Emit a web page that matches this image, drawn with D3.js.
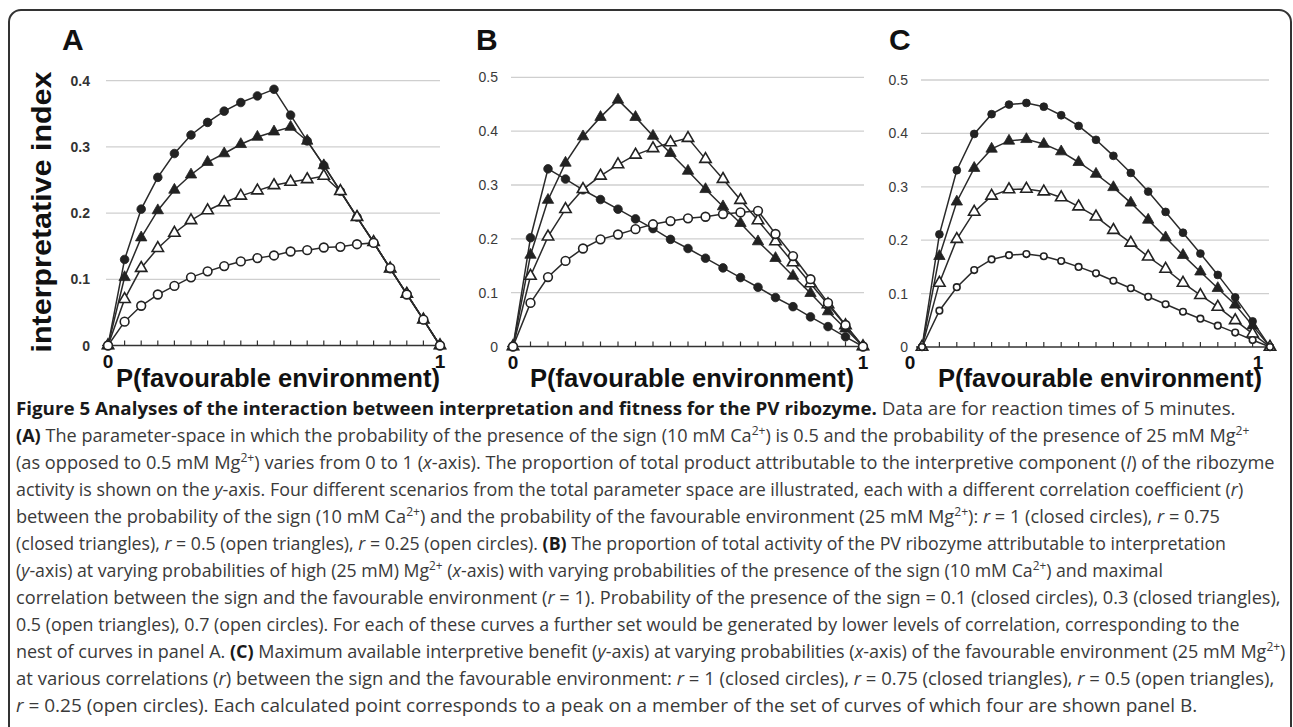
<!DOCTYPE html>
<meta charset="utf-8">
<style>
body { margin: 0; background: #fff; }
svg { display: block; }
.ytick { font: bold 14px "Liberation Sans", Arial, sans-serif; fill: #333; }
.ytick.light { font-weight: normal; fill: #3a3a3a; }
.xtick { font: bold 19px "Liberation Sans", Arial, sans-serif; fill: #111; }
.xtitle { font: bold 25px "Liberation Sans", Arial, sans-serif; fill: #111; }
.ytitle { font: bold 28px "Liberation Sans", Arial, sans-serif; fill: #111; }
.letter { font: bold 30px "Liberation Sans", Arial, sans-serif; fill: #111; }
.grid { stroke: #cfcfcf; stroke-width: 1.3; }
.axis { stroke: #333; stroke-width: 1.5; }
.series { fill: none; stroke: #2a2a2a; stroke-width: 1.5; }
.cap { font: 18px "Open Sans", sans-serif; fill: #3a3a3a; }
</style>
<body>
<svg id="fig" width="1293" height="727"></svg>

<script src="https://cdn.jsdelivr.net/npm/d3@7"></script>
<script>

// x categories: P(favourable environment), step 0.05
var xCats = [0, 0.05, 0.1, 0.15, 0.2, 0.25, 0.3, 0.35, 0.4, 0.45, 0.5,
             0.55, 0.6, 0.65, 0.7, 0.75, 0.8, 0.85, 0.9, 0.95, 1];

// panel A : correlation r = 1, 0.75, 0.5, 0.25
var aR100 = [0, 0.130, 0.206, 0.254, 0.290, 0.318, 0.337, 0.354, 0.367, 0.377, 0.387,
             0.348, 0.309, 0.272, 0.233, 0.194, 0.156, 0.116, 0.078, 0.039, 0];
var aR075 = [0, 0.103, 0.163, 0.204, 0.235, 0.258, 0.277, 0.290, 0.304, 0.315, 0.323,
             0.330, 0.309, 0.272, 0.233, 0.194, 0.156, 0.116, 0.078, 0.039, 0];
var aR050 = [0, 0.070, 0.117, 0.147, 0.170, 0.189, 0.204, 0.216, 0.226, 0.234, 0.242,
             0.247, 0.251, 0.256, 0.233, 0.194, 0.156, 0.116, 0.078, 0.039, 0];
var aR025 = [0, 0.036, 0.060, 0.077, 0.090, 0.103, 0.112, 0.120, 0.127, 0.132, 0.136,
             0.142, 0.144, 0.148, 0.149, 0.153, 0.155, 0.117, 0.077, 0.039, 0];

// panel B : P(sign) = 0.1, 0.3, 0.5, 0.7
var bP01 = [0, 0.202, 0.330, 0.311, 0.291, 0.273, 0.255, 0.237, 0.219, 0.199, 0.182,
            0.164, 0.146, 0.128, 0.110, 0.091, 0.074, 0.055, 0.037, 0.018, 0];
var bP03 = [0, 0.170, 0.272, 0.341, 0.390, 0.426, 0.458, 0.426, 0.391, 0.359, 0.326,
            0.292, 0.260, 0.229, 0.195, 0.164, 0.131, 0.099, 0.065, 0.033, 0];
var bP05 = [0, 0.131, 0.204, 0.255, 0.292, 0.317, 0.338, 0.356, 0.368, 0.379, 0.387,
            0.348, 0.311, 0.272, 0.234, 0.195, 0.156, 0.117, 0.078, 0.039, 0];
var bP07 = [0, 0.081, 0.129, 0.159, 0.182, 0.199, 0.208, 0.218, 0.227, 0.233, 0.238,
            0.241, 0.246, 0.249, 0.252, 0.209, 0.168, 0.125, 0.081, 0.040, 0];

// panel C : maximum benefit, r = 1, 0.75, 0.5, 0.25
var cR100 = [0, 0.211, 0.331, 0.399, 0.436, 0.454, 0.457, 0.450, 0.434, 0.414, 0.388,
             0.358, 0.326, 0.291, 0.253, 0.214, 0.175, 0.135, 0.093, 0.048, 0];
var cR075 = [0, 0.170, 0.272, 0.335, 0.371, 0.386, 0.389, 0.380, 0.366, 0.346, 0.324,
             0.299, 0.270, 0.238, 0.205, 0.172, 0.141, 0.110, 0.079, 0.040, 0];
var cR050 = [0, 0.120, 0.202, 0.253, 0.283, 0.295, 0.296, 0.291, 0.280, 0.263, 0.244,
             0.219, 0.195, 0.169, 0.146, 0.120, 0.097, 0.075, 0.050, 0.025, 0];
var cR025 = [0, 0.068, 0.112, 0.144, 0.164, 0.172, 0.174, 0.170, 0.161, 0.150, 0.138,
             0.124, 0.110, 0.094, 0.080, 0.066, 0.053, 0.040, 0.027, 0.013, 0];

var yTicksA = [0, 0.1, 0.2, 0.3, 0.4];
var yTicksBC = [0, 0.1, 0.2, 0.3, 0.4, 0.5];
var xTickLabels = [0, 1];

var svg = d3.select('#fig');

// outer frame
svg.append('rect')
  .attr('x', 9).attr('y', 10).attr('width', 1282).attr('height', 800)
  .attr('rx', 12)
  .style('fill', 'none').style('stroke', '#333').style('stroke-width', 2);

// marker styles, in drawing order
var markers = [
  {type: d3.symbolCircle,   size: 58, fill: '#222'},
  {type: d3.symbolTriangle, size: 56, fill: '#222'},
  {type: d3.symbolTriangle, size: 56, fill: '#fff'},
  {type: d3.symbolCircle,   size: 60, fill: '#fff'}
];

var panels = [
  {letter: 'A', lx: 62, x0: 108, x1: 440, y0: 345.5, yTop: 80.7, yMax: 0.4, gx: [106, 440],
   labR: 90, ticks: yTicksA, bold: true, xOff: 0, series: [aR100, aR075, aR050, aR025], small: false},
  {letter: 'B', lx: 476, x0: 513, x1: 863, y0: 346.5, yTop: 77.3, yMax: 0.5, gx: [511, 864],
   labR: 498, ticks: yTicksBC, bold: false, xOff: 0, series: [bP01, bP03, bP05, bP07], small: false},
  {letter: 'C', lx: 889, x0: 922, x1: 1270, y0: 347, yTop: 80, yMax: 0.5, gx: [921, 1269],
   labR: 908, ticks: yTicksBC, bold: false, xOff: -12, series: [cR100, cR075, cR050, cR025], small: true}
];

panels.forEach(drawPanel);

function drawPanel(p){
  var g = svg.append('g');
  var x = d3.scaleLinear().domain([0, 1]).range([p.x0, p.x1]);
  var y = d3.scaleLinear().domain([0, p.yMax]).range([p.y0, p.yTop]);

  g.append('text').attr('class', 'letter').attr('x', p.lx).attr('y', 50).text(p.letter);

  // gridlines
  g.selectAll('.grid').data(p.ticks.filter(function(d){ return d > 0; }))
    .enter().append('line').attr('class', 'grid')
    .attr('x1', p.gx[0]).attr('x2', p.gx[1])
    .attr('y1', function(d){ return y(d); }).attr('y2', function(d){ return y(d); });

  g.selectAll('.ytick').data(p.ticks).enter().append('text')
    .attr('class', p.bold ? 'ytick' : 'ytick light')
    .attr('x', p.labR).attr('y', function(d){ return y(d) + 5; })
    .attr('text-anchor', 'end')
    .text(function(d){ return d === 0 ? '0' : d3.format('.1f')(d); });

  // x axis
  g.append('line').attr('class', 'axis')
    .attr('x1', p.x0 - 6).attr('x2', p.x1 + 2)
    .attr('y1', y(0)).attr('y2', y(0));
  g.selectAll('.xt').data(xCats).enter().append('line').attr('class', 'axis')
    .attr('x1', function(d){ return x(d); }).attr('x2', function(d){ return x(d); })
    .attr('y1', y(0)).attr('y2', y(0) - 5)
    .style('stroke-width', 1.2);
  g.selectAll('.xtick').data(xTickLabels).enter().append('text')
    .attr('class', 'xtick')
    .attr('x', function(d){ return x(d) + p.xOff; }).attr('y', y(0) + 22)
    .attr('text-anchor', 'middle')
    .text(function(d){ return d; });

  g.append('text').attr('class', 'xtitle')
    .attr('x', (p.x0 + p.x1) / 2 + 4).attr('y', 387)
    .attr('text-anchor', 'middle')
    .attr('textLength', 324).attr('lengthAdjust', 'spacingAndGlyphs')
    .text('P(favourable environment)');

  var line = d3.line()
    .x(function(d, i){ return x(xCats[i]); })
    .y(function(d){ return y(d); });

  p.series.forEach(function(vals, si){
    var m = markers[si];
    var size = m.size;
    if(p.small && si === 3){ size = 34; }
    if(p.small && si === 0){ size = 48; }
    g.append('path').attr('class', 'series').attr('d', line(vals));
    g.selectAll('.m' + si).data(vals).enter().append('path')
      .attr('d', d3.symbol().type(m.type).size(size))
      .attr('transform', function(d, i){ return 'translate(' + x(xCats[i]) + ',' + y(d) + ')'; })
      .style('fill', m.fill).style('stroke', '#222')
      .style('stroke-width', m.fill === '#fff' ? 1.6 : 0.8);
  });
}

// y title of panel A
svg.append('text').attr('class', 'ytitle')
  .attr('transform', 'translate(51,212) rotate(-90)')
  .attr('text-anchor', 'middle')
  .attr('textLength', 281).attr('lengthAdjust', 'spacingAndGlyphs')
  .text('interpretative index');

// caption: n normal, b bold, i italic, s superscript
var capLines = [
  [['b', 'Figure 5 Analyses of the interaction between interpretation and fitness for the PV ribozyme.'], ['n', ' Data are for reaction times of 5 minutes.']],
  [['b', '(A)'], ['n', ' The parameter-space in which the probability of the presence of the sign (10 mM Ca'], ['s', '2+'], ['n', ') is 0.5 and the probability of the presence of 25 mM Mg'], ['s', '2+']],
  [['n', '(as opposed to 0.5 mM Mg'], ['s', '2+'], ['n', ') varies from 0 to 1 ('], ['i', 'x'], ['n', '-axis). The proportion of total product attributable to the interpretive component ('], ['i', 'I'], ['n', ') of the ribozyme']],
  [['n', 'activity is shown on the '], ['i', 'y'], ['n', '-axis. Four different scenarios from the total parameter space are illustrated, each with a different correlation coefficient ('], ['i', 'r'], ['n', ')']],
  [['n', 'between the probability of the sign (10 mM Ca'], ['s', '2+'], ['n', ') and the probability of the favourable environment (25 mM Mg'], ['s', '2+'], ['n', '): '], ['i', 'r'], ['n', ' = 1 (closed circles), '], ['i', 'r'], ['n', ' = 0.75']],
  [['n', '(closed triangles), '], ['i', 'r'], ['n', ' = 0.5 (open triangles), '], ['i', 'r'], ['n', ' = 0.25 (open circles). '], ['b', '(B)'], ['n', ' The proportion of total activity of the PV ribozyme attributable to interpretation']],
  [['n', '('], ['i', 'y'], ['n', '-axis) at varying probabilities of high (25 mM) Mg'], ['s', '2+'], ['n', ' ('], ['i', 'x'], ['n', '-axis) with varying probabilities of the presence of the sign (10 mM Ca'], ['s', '2+'], ['n', ') and maximal']],
  [['n', 'correlation between the sign and the favourable environment ('], ['i', 'r'], ['n', ' = 1). Probability of the presence of the sign = 0.1 (closed circles), 0.3 (closed triangles),']],
  [['n', '0.5 (open triangles), 0.7 (open circles). For each of these curves a further set would be generated by lower levels of correlation, corresponding to the']],
  [['n', 'nest of curves in panel A. '], ['b', '(C)'], ['n', ' Maximum available interpretive benefit ('], ['i', 'y'], ['n', '-axis) at varying probabilities ('], ['i', 'x'], ['n', '-axis) of the favourable environment (25 mM Mg'], ['s', '2+'], ['n', ')']],
  [['n', 'at various correlations ('], ['i', 'r'], ['n', ') between the sign and the favourable environment: '], ['i', 'r'], ['n', ' = 1 (closed circles), '], ['i', 'r'], ['n', ' = 0.75 (closed triangles), '], ['i', 'r'], ['n', ' = 0.5 (open triangles),']],
  [['i', 'r'], ['n', ' = 0.25 (open circles). Each calculated point corresponds to a peak on a member of the set of curves of which four are shown panel B.']]
];
var capRight = [1237, 1250, 1275, 1244, 1221, 1227, 1163, 1282, 1240, 1286, 1275, 1198];

capLines.forEach(function(segs, li){
  var baseY = 415 + li * 27;
  var t = svg.append('text').attr('class', 'cap');
  var raised = false;
  segs.forEach(function(s){
    var ts = t.append('tspan').text(s[1]);
    if(s[0] === 'b'){ ts.style('font-weight', 'bold').style('fill', '#1a1a1a'); }
    if(s[0] === 'i'){ ts.style('font-style', 'italic'); }
    if(s[0] === 's'){ ts.attr('dy', -7).style('font-size', '12px'); raised = true; }
    else if(raised){ ts.attr('dy', 7); raised = false; }
  });
  var w = t.node().getComputedTextLength();
  var sx = (capRight[li] - 16) / w;
  t.attr('transform', 'translate(16,' + baseY + ') scale(' + sx + ',1)');
});

</script>
</body>
